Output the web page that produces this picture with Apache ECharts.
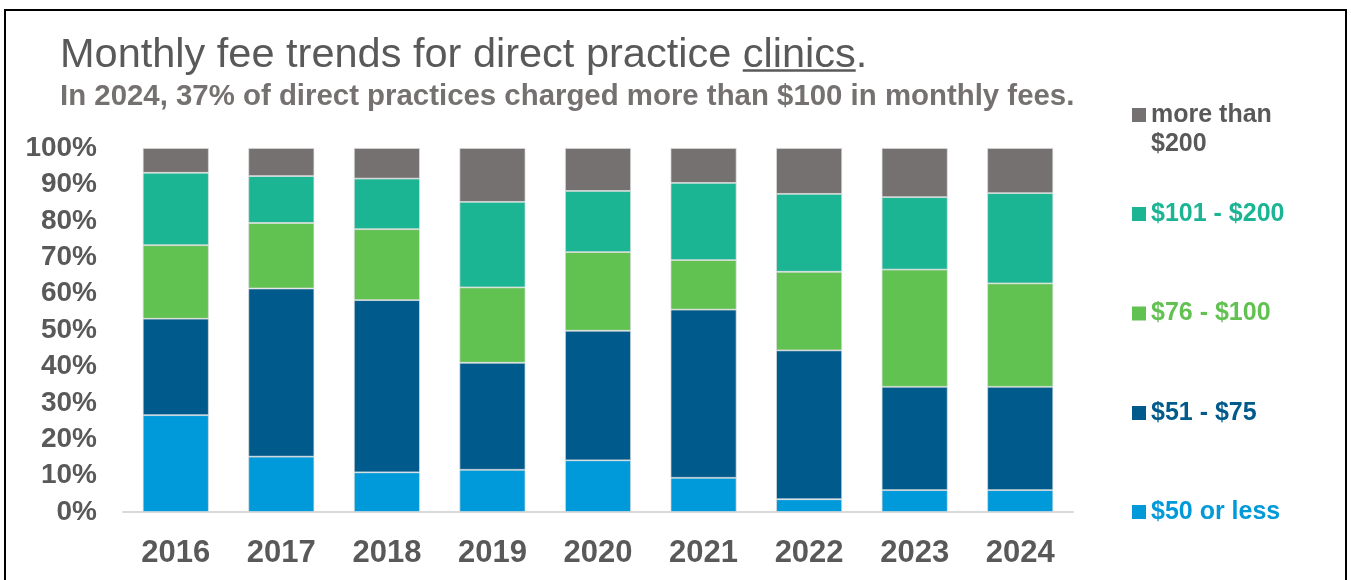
<!DOCTYPE html>
<html>
<head>
<meta charset="utf-8">
<script src="https://cdn.jsdelivr.net/npm/echarts@6/dist/echarts.min.js"></script>
<style>
  html, body { margin: 0; padding: 0; background: #fff; }
  #main { width: 1351px; height: 580px; }
</style>
</head>
<body>
<div id="main"></div>
<script>
// data (percent of clinics)
var years = ['2016', '2017', '2018', '2019', '2020', '2021', '2022', '2023', '2024'];
var le50 = [26.6, 15.2, 10.9, 11.6, 14.2, 9.4, 3.5, 6.0, 6.0];
var from51to75 = [26.5, 46.2, 47.3, 29.4, 35.6, 46.2, 40.9, 28.4, 28.4];
var from76to100 = [20.2, 18.0, 19.5, 20.7, 21.6, 13.6, 21.6, 32.2, 28.4];
var from101to200 = [19.9, 12.9, 13.9, 23.5, 16.8, 21.2, 21.4, 19.9, 24.8];
var over200 = [6.8, 7.7, 8.4, 14.8, 11.8, 9.6, 12.6, 13.5, 12.4];

var names = ['$50 or less', '$51 - $75', '$76 - $100', '$101 - $200', 'more than\n$200'];
var values = [le50, from51to75, from76to100, from101to200, over200];
var colors = ['#0099da', '#005a8c', '#62c251', '#1bb594', '#767171'];
var legendTextColors = ['#0099da', '#005a8c', '#62c251', '#1bb594', '#595959'];

var FONT = '"Liberation Sans", Arial, sans-serif';
var titlePrefix = 'Monthly fee trends for direct practice ';
var titleWord = 'clinics';
var TITLE_SIZE = 41.5;

var chart = echarts.init(document.getElementById('main'));

// measure where the underlined word sits
var cv = document.createElement('canvas').getContext('2d');
cv.font = TITLE_SIZE + 'px ' + FONT;
var prefixW = cv.measureText(titlePrefix).width;
var wordW = cv.measureText(titleWord).width;
var titleX = 60;

var series = names.map(function (n, i) {
    return {
        name: n,
        type: 'bar',
        stack: 'all',
        barWidth: 66,
        data: values[i],
        itemStyle: {color: colors[i], borderColor: 'rgba(220,220,220,0.9)', borderWidth: 0.8}
    };
});

// one legend per entry, top to bottom like the reference.
// the two-line entry gets a taller icon box with the square at its top,
// so the square lines up with the first text line
var legendCenters = [115, 214, 313.5, 413, 512];
var legends = names.slice().reverse().map(function (n, k) {
    var i = names.length - 1 - k;
    var multi = n.indexOf('\n') >= 0;
    return {
        data: [n],
        left: 1132,
        top: legendCenters[k] - 14.5,
        padding: 0,
        orient: 'vertical',
        itemWidth: 14,
        itemHeight: multi ? 43 : 14,
        icon: multi ? 'path://M0,43M0,0L14,0L14,14L0,14Z' : 'rect',
        itemStyle: {borderWidth: 0},
        selectedMode: false,
        textStyle: {
            color: legendTextColors[i],
            fontFamily: FONT,
            fontWeight: 'bold',
            fontSize: 25,
            lineHeight: 29
        }
    };
});

chart.setOption({
    animation: false,
    textStyle: {fontFamily: FONT},
    title: [{
        text: titlePrefix + titleWord + '.',
        left: titleX,
        top: 34,
        padding: 0,
        textStyle: {color: '#595959', fontSize: TITLE_SIZE, fontWeight: 'normal', fontFamily: FONT, lineHeight: 44}
    }, {
        text: 'In 2024, 37% of direct practices charged more than $100 in monthly fees.',
        left: titleX,
        top: 81,
        padding: 0,
        textStyle: {color: '#767171', fontSize: 29.4, fontWeight: 'bold', fontFamily: FONT, lineHeight: 32}
    }],
    graphic: [{
        type: 'rect',
        shape: {x: 5, y: 10, width: 1341, height: 620},
        style: {fill: null, stroke: '#000', lineWidth: 2},
        silent: true
    }, {
        type: 'line',
        shape: {x1: titleX + prefixW, y1: 70.5, x2: titleX + prefixW + wordW, y2: 70.5},
        style: {stroke: '#595959', lineWidth: 2.5},
        silent: true
    }],
    legend: legends,
    grid: {left: 123, right: 278, top: 148, bottom: 68, containLabel: false},
    xAxis: {
        type: 'category',
        data: years,
        axisLine: {lineStyle: {color: '#d9d9d9', width: 2}},
        axisTick: {show: false},
        axisLabel: {color: '#595959', fontSize: 31, fontWeight: 'bold', fontFamily: FONT, margin: 26}
    },
    yAxis: {
        type: 'value',
        min: 0,
        max: 100,
        interval: 10,
        axisLine: {show: false},
        axisTick: {show: false},
        splitLine: {show: false},
        axisLabel: {color: '#595959', fontSize: 28, fontWeight: 'bold', fontFamily: FONT, margin: 26,
            formatter: '{value}%'}
    },
    series: series
});
</script>
</body>
</html>
